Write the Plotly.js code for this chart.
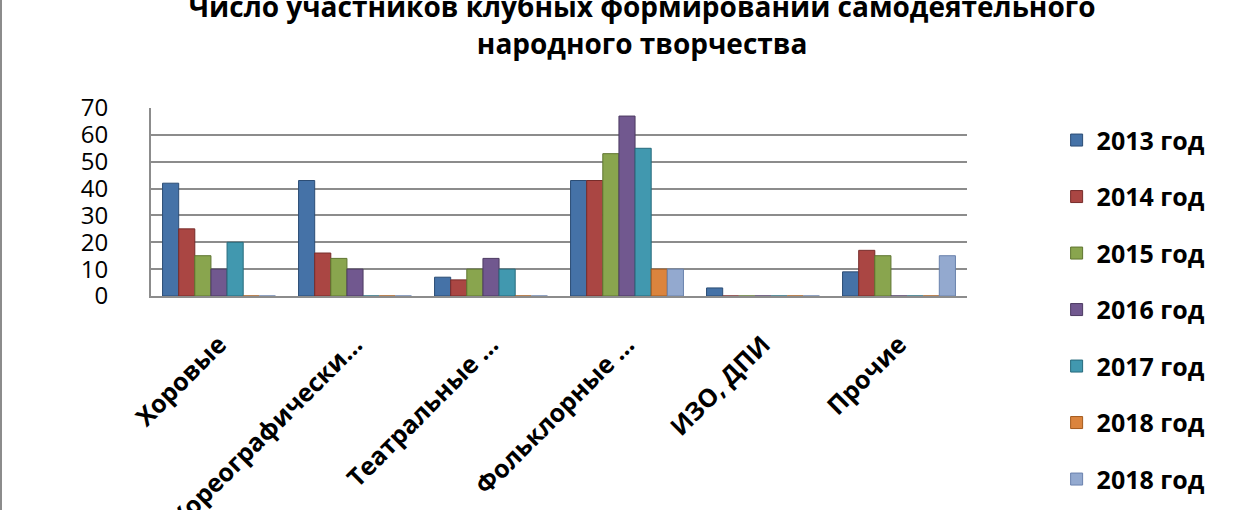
<!DOCTYPE html>
<html>
<head>
<meta charset="utf-8">
<script src="https://cdn.plot.ly/plotly-3.0.1.min.js"></script>
<style>
  body { margin: 0; background: #fff; }
  #chart { width: 1260px; height: 510px; box-sizing: border-box;
           border-left: 2px solid #8c8c8c; border-right: 2px solid #8c8c8c; }
</style>
</head>
<body>
<div id="chart"></div>
<script>
// categories of club formations (labels are cut off in the original)
var categories = ['Хоровые', 'Хореографически…', 'Театральные …', 'Фольклорные …', 'ИЗО, ДПИ', 'Прочие'];

// participants per year
var y2013 = [42, 43, 7, 43, 3, 9];
var y2014 = [25, 16, 6, 43, 0, 17];
var y2015 = [15, 14, 10, 53, 0, 15];
var y2016 = [10, 10, 14, 67, 0, 0];
var y2017 = [20, 0, 10, 55, 0, 0];
var y2018 = [0, 0, 0, 10, 0, 0];
var y2018b = [0, 0, 0, 10, 0, 15];

var seriesNames = ['2013 год', '2014 год', '2015 год', '2016 год', '2017 год', '2018 год', '2018 год'];
var seriesValues = [y2013, y2014, y2015, y2016, y2017, y2018, y2018b];
var colors = ['#4572A7', '#AA4643', '#89A54E', '#71588F', '#4198AF', '#DB843D', '#93A9CF'];
var edges = ['#2c4d75', '#772c2a', '#5f7530', '#4d3b62', '#276a7c', '#a35a1d', '#6a82ad'];

var font = '"Open Sans", Lato, sans-serif';

var traces = [];
for (var i = 0; i < seriesValues.length; i++) {
    traces.push({
        type: 'bar',
        name: seriesNames[i],
        x: categories,
        y: seriesValues[i],
        legendgroup: 'g' + i,
        marker: {color: colors[i], line: {color: edges[i], width: 1}},
        hoverinfo: 'y+name'
    });
}

var layout = {
    width: 1260,
    height: 510,
    paper_bgcolor: '#fff',
    plot_bgcolor: '#fff',
    margin: {l: 149, r: 295, t: 108, b: 214},
    barmode: 'group',
    bargap: 0.17,
    bargroupgap: 0,
    title: {
        text: 'Число участников клубных формирований самодеятельного<br>народного творчества',
        font: {family: font, size: 28, color: '#000', weight: 'bold'},
        x: 0.508, xanchor: 'center',
        yref: 'container', y: 0.966, yanchor: 'middle'
    },
    xaxis: {
        tickangle: -45,
        tickfont: {family: font, size: 25, color: '#000', weight: 'bold'},
        showline: true, linecolor: '#8c8c8c', linewidth: 2,
        ticks: '', ticklabelstandoff: 22
    },
    yaxis: {
        range: [0, 70],
        dtick: 10,
        tickfont: {family: '"Open Sans", sans-serif', size: 24, color: '#000'},
        showgrid: true, gridcolor: '#8c8c8c', gridwidth: 2,
        showline: true, linecolor: '#8c8c8c', linewidth: 2,
        zeroline: false, ticks: '', ticklabelstandoff: 36
    },
    legend: {
        xref: 'container', yref: 'container',
        x: 0.837, y: 0.77, xanchor: 'left', yanchor: 'top',
        font: {family: font, size: 25, color: '#000', weight: 'bold'},
        tracegroupgap: 21,
        traceorder: 'grouped',
        maxheight: 1
    },
    showlegend: true
};

Plotly.newPlot('chart', traces, layout, {displayModeBar: false, staticPlot: true});
</script>
</body>
</html>
